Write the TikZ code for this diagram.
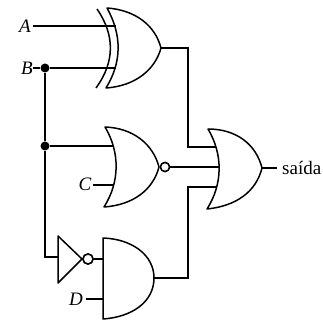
\documentclass[tikz,border=0pt]{standalone}
\usepackage{fontspec}
\setmainfont{Liberation Serif}
\tikzset{
  wire/.style={line width=1.5pt,line join=miter},
  gate/.style={line width=1.5pt,line join=round,fill=white},
  backarc/.style={line width=1.5pt},
  bubble/.style={circle,draw,line width=1.5pt,inner sep=0pt,minimum size=9pt,fill=white},
  joint/.style={circle,fill=black,inner sep=0pt,minimum size=9pt},
  lab/.style={font=\fontsize{19}{19}\selectfont\itshape,inner sep=0pt},
  outlab/.style={font=\fontsize{19}{19}\selectfont,inner sep=0pt,anchor=west}
}
\begin{document}
\begin{tikzpicture}[x=1pt,y=-1pt]
\useasboundingbox (0,0) rectangle (323,320);
% labels
\node[lab] (A) at (25,26) {A};
\node[lab] (B) at (27,68) {B};
\node[lab] (C) at (85,184) {C};
\node[lab] (D) at (76,299) {D};
\node[outlab] (out) at (282,168) {saída};
% pins
\coordinate (xA) at (116,26);
\coordinate (xB) at (116,68);
\coordinate (xO) at (161,48);
\coordinate (nA) at (114,146);
\coordinate (nC) at (114,185);
\coordinate (nO) at (159,167);
\coordinate (iI) at (58,257);
\coordinate (aA) at (103,259);
\coordinate (aD) at (103,299);
\coordinate (aO) at (154,278);
\coordinate (oA) at (216,147);
\coordinate (oB) at (220,167);
\coordinate (oC) at (216,187);
\coordinate (oO) at (262,168);
\coordinate (oE) at (277,168);
\coordinate (Aw) at (33,26);
\coordinate (Cw) at (93,185);
\coordinate (Dw) at (86,299);
\node[joint] (j1) at (45,68) {};
\node[joint] (j2) at (45,146) {};
\node[bubble] (nb) at (165,167) {};
\node[bubble,minimum size=10pt] (ib) at (88,259) {};
% connectors
\draw[wire] (Aw) -- (xA);
\draw[wire] (B.east) -- (j1) -- (xB);
\draw[wire] (j1) -- (j2) -- (nA);
\draw[wire] (j2) |- (iI);
\draw[wire] (Cw) -- (nC);
\draw[wire] (Dw) -- (aD);
\draw[wire] (ib) -- (aA);
\draw[wire] (xO) -| (188,147) -- (oA);
\draw[wire] (nb) -- (oB);
\draw[wire] (aO) -| (188,187) -- (oC);
\draw[wire] (oO) -- (oE);
% XOR
\draw[backarc] (97,9) .. controls (115,35) and (115,62) .. (96,88);
\draw[gate] (107,8) .. controls (135,10) and (155,25) .. (xO) .. controls (155,70) and (135,86) .. (106,88) .. controls (122,62) and (122,35) .. cycle;
\draw[wire] (Aw) -- (xA);
\draw[wire] (j1) -- (xB);
% NOR
\draw[gate] (105,127) .. controls (133,128) and (153,144) .. (nO) .. controls (153,190) and (133,205) .. (104,207) .. controls (120,182) and (120,152) .. cycle;
\draw[wire] (j2) -- (nA);
\draw[wire] (Cw) -- (nC);
% Inverter
\draw[gate] (58,236) -- (58,283) -- (82,259) -- cycle;
% AND
\draw[gate] (103,238) .. controls (132,239) and (154,255) .. (aO) .. controls (154,302) and (132,317) .. (103,319) -- cycle;
% OR
\draw[gate] (208,129) .. controls (236,129) and (256,144) .. (oO) .. controls (256,192) and (236,206) .. (207,209) .. controls (223,184) and (223,154) .. cycle;
\draw[wire] (188,147) -- (oA);
\draw[wire] (nb) -- (oB);
\draw[wire] (188,187) -- (oC);
\node[bubble] at (nb) {};
\node[bubble,minimum size=10pt] at (ib) {};
\end{tikzpicture}
\end{document}
